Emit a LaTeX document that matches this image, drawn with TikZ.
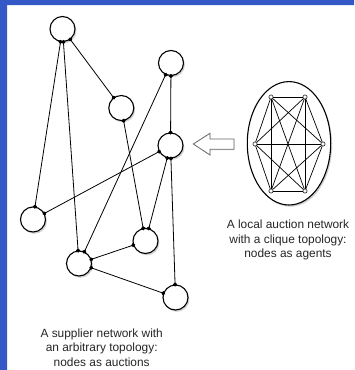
\documentclass[tikz,border=0pt]{standalone}
\usepackage{fontspec}
\setmainfont{Liberation Sans}
\usetikzlibrary{arrows.meta,shadows,shapes.geometric}
\definecolor{framebar}{RGB}{52,88,198}

\begin{document}
\begin{tikzpicture}[x=1pt, y=-1pt,
		auction/.style={circle, draw=black, line width=1.1pt, fill=white, minimum size=25pt, inner sep=0pt,
			drop shadow={shadow xshift=1.4pt, shadow yshift=-1.8pt, opacity=0.35}},
		agent/.style={circle, draw=black, line width=0.5pt, fill=white, minimum size=4.2pt, inner sep=0pt},
		link/.style={line width=0.8pt, arrows={Circle[length=4pt]-Circle[length=4pt]},
			shorten <=-2pt, shorten >=-2pt},
		mesh/.style={line width=0.7pt, black},
		caption/.style={align=center, font=\fontsize{11.9}{14.5}\selectfont, text=black!85}]
	\useasboundingbox (0,0) rectangle (354,370);
	\fill[white] (0,0) rectangle (354,370);
	% blaue Leiste oben und links
	\fill[framebar] (0,0) rectangle (354,5) (0,0) rectangle (7,370);
	
	% Lieferantennetz
	\node[auction] (a) at (62.5,29) {};
	\node[auction] (b) at (121.3,108) {};
	\node[auction] (c) at (171,63) {};
	\node[auction] (d) at (170.5,145.5) {};
	\node[auction] (e) at (33,219.5) {};
	\node[auction] (f) at (79,263.5) {};
	\node[auction] (g) at (145.5,241) {};
	\node[auction] (h) at (175.5,297.5) {};
	\foreach \u/\v in {a/b, a/e, a/f, b/g, c/d, c/f, d/e, d/g, d/h, f/g, f/h}
		\draw[link] (\u) -- (\v);
	
	% lokale Auktion als Clique
	\node[ellipse, draw=black, line width=1.1pt, fill=white, inner sep=0pt,
		minimum width=83.4pt, minimum height=123.4pt,
		drop shadow={shadow xshift=1.4pt, shadow yshift=-1.8pt, opacity=0.35}] (clique) at (289,143.3) {};
	\foreach \n/\x/\y in {1/271/97, 2/305/97, 3/323/144, 4/305/191, 5/271/191, 6/255/144}
		\node[agent] (k\n) at (\x,\y) {};
	\foreach \i in {1,...,5} {
		\pgfmathtruncatemacro\nxt{\i+1}
		\foreach \j in {\nxt,...,6}
			\draw[mesh] (k\i) -- (k\j);
	}
	
	% Pfeil
	\draw[draw=black!60, fill=white, line width=0.8pt,
		drop shadow={shadow xshift=0.8pt, shadow yshift=-1pt, opacity=0.15}]
		(193.3,144) -- (210,133.3) -- (210,139) -- (234,139) -- (234,149.3)
		-- (210,149.3) -- (210,155) -- cycle;
	
	\node[caption] (cliquetext) at (288,240) {A local auction network\\with a clique topology:\\nodes as agents};
	\node[caption] (suppliertext) at (101.7,347.5) {A supplier network with\\an arbitrary topology:\\nodes as auctions};
\end{tikzpicture}
\end{document}
